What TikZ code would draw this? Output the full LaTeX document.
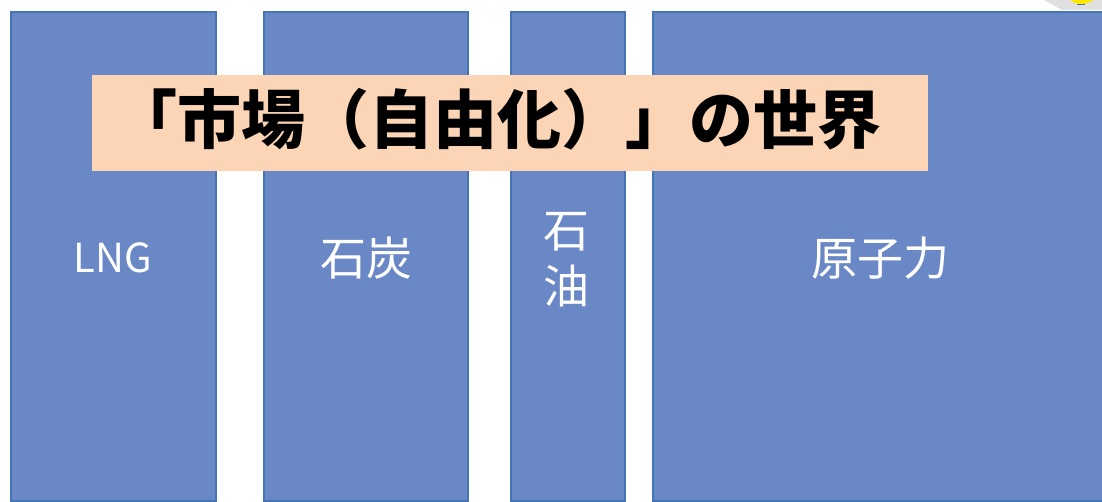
\documentclass[tikz,border=0pt]{standalone}
\usepackage{fontspec}
\setmainfont{Noto Sans CJK JP}
\definecolor{barfill}{HTML}{6A88C6}
\definecolor{barline}{HTML}{4675B5}
\definecolor{titlefill}{HTML}{FBD5B5}
\tikzset{
  bar/.style={fill=barfill, draw=barline, line width=1.6pt},
  barlabel/.style={text=white, font=\fontsize{46}{56}\selectfont, align=center},
  titlebox/.style={fill=titlefill, draw=none},
}
\begin{document}
\begin{tikzpicture}[x=1pt,y=-1pt]
\useasboundingbox (0,0) rectangle (1102,501);
\fill[white] (0,0) rectangle (1102,501);
% fragment of a shape in the top-right corner
\fill[black!12] (1044,0) -- (1102,0) -- (1102,10) -- (1062,10) -- cycle;
\fill[yellow!90!orange] (1070,0) -- (1094,0) -- (1085,4) -- (1077,4) -- cycle;
\draw[barline, line width=0.8pt] (1077,4) -- (1085,4);
% bars
\node[bar, minimum width=205pt, minimum height=489pt, anchor=north west, inner sep=0pt] (b1) at (10,11) {};
\node[bar, minimum width=204pt, minimum height=489pt, anchor=north west, inner sep=0pt] (b2) at (263,11) {};
\node[bar, minimum width=114pt, minimum height=489pt, anchor=north west, inner sep=0pt] (b3) at (510,11) {};
\node[bar, minimum width=460pt, minimum height=489pt, anchor=north west, inner sep=0pt] (b4) at (652,11) {};
% labels
\node[barlabel, font=\fontsize{40}{56}\selectfont] (l1) at (113,258) {LNG};
\node[barlabel] (l2) at (366,258) {石炭};
\node[barlabel] (l3) at (566,260) {石\\油};
\node[barlabel] (l4) at (880,258) {原子力};
% title
\node[titlebox, minimum width=836pt, minimum height=96pt, anchor=north west, inner sep=0pt] (t) at (92,75) {};
\node[font=\fontsize{64}{70}\selectfont\bfseries, text=black] (tt) at (497,119) {「市場（自由化）」の世界};
\end{tikzpicture}
\end{document}
